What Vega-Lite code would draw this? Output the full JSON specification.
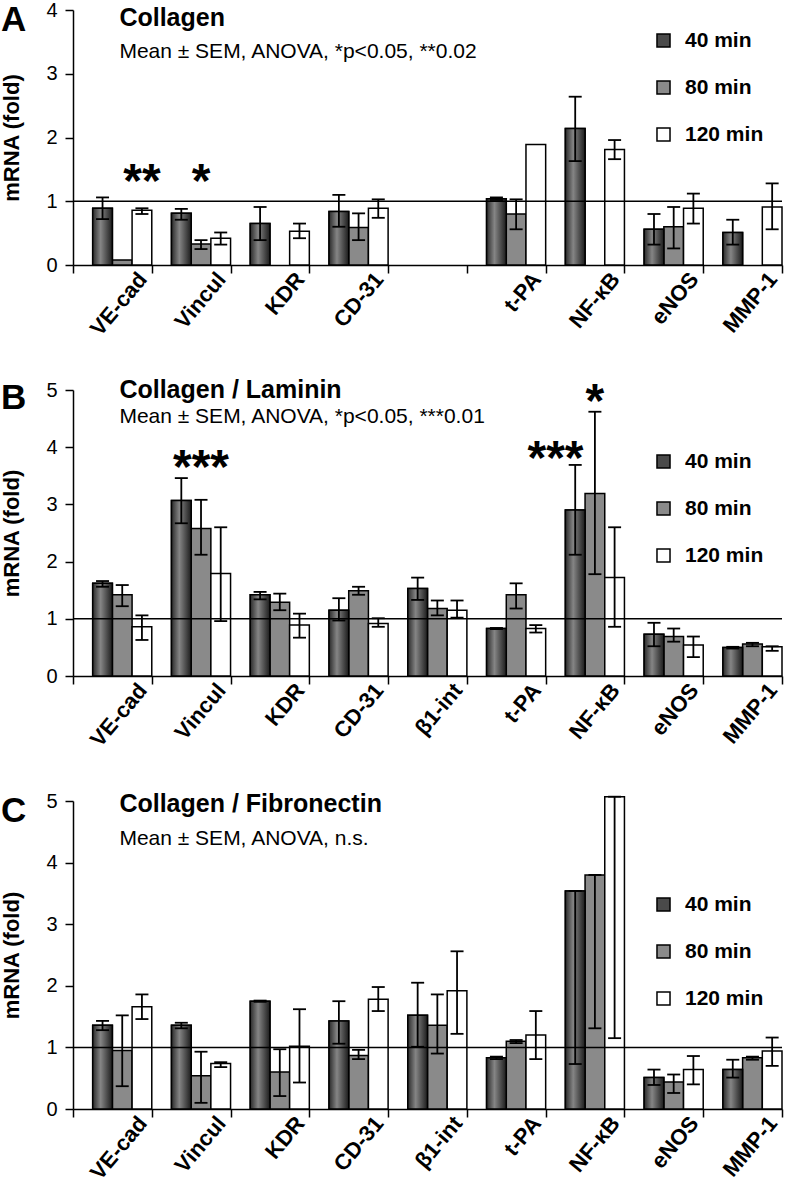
{
  "$schema": "https://vega.github.io/schema/vega-lite/v6.json",
  "background": "white",
  "padding": {"left": 0, "top": 0, "right": 2, "bottom": 2},
  "config": {
    "view": {"stroke": null},
    "font": "Liberation Sans",
    "axis": {"domainColor": "black", "domainWidth": 1.5, "tickColor": "black", "tickWidth": 1.5, "tickSize": 8, "grid": false, "labelColor": "black", "titleColor": "black", "labelFont": "Liberation Sans", "titleFont": "Liberation Sans"},
    "axisX": {"title": null, "labelFontSize": 22, "labelFontWeight": "bold", "labelPadding": 2, "tickBand": "extent"},
    "axisY": {"labelFontSize": 20, "labelPadding": 8, "titleFontSize": 22, "titleFontWeight": "bold", "titlePadding": 22, "format": "d"},
    "legend": {"title": null, "orient": "none", "legendX": 580, "symbolType": "square", "symbolSize": 170, "symbolStrokeColor": "black", "symbolStrokeWidth": 1.5, "labelFontSize": 21, "labelFontWeight": "bold", "labelFont": "Liberation Sans", "labelColor": "black", "rowPadding": 25, "labelOffset": 11, "symbolOpacity": 1},
    "title": {"anchor": "start", "frame": "bounds", "fontSize": 35, "fontWeight": "bold", "font": "Liberation Sans", "color": "black", "offset": 0, "dx": 0, "dy": 42}
  },
  "datasets": {
    "A": [
      {"gene": "VE-cad", "time": "40 min", "value": 0.89, "lo": 0.72, "hi": 1.06},
      {"gene": "VE-cad", "time": "80 min", "value": 0.08, "lo": null, "hi": null},
      {"gene": "VE-cad", "time": "120 min", "value": 0.86, "lo": 0.80, "hi": 0.89},
      {"gene": "Vincul", "time": "40 min", "value": 0.81, "lo": 0.71, "hi": 0.88},
      {"gene": "Vincul", "time": "80 min", "value": 0.33, "lo": 0.25, "hi": 0.39},
      {"gene": "Vincul", "time": "120 min", "value": 0.42, "lo": 0.32, "hi": 0.51},
      {"gene": "KDR", "time": "40 min", "value": 0.65, "lo": 0.39, "hi": 0.91},
      {"gene": "KDR", "time": "120 min", "value": 0.53, "lo": 0.42, "hi": 0.65},
      {"gene": "CD-31", "time": "40 min", "value": 0.84, "lo": 0.60, "hi": 1.10},
      {"gene": "CD-31", "time": "80 min", "value": 0.59, "lo": 0.39, "hi": 0.81},
      {"gene": "CD-31", "time": "120 min", "value": 0.89, "lo": 0.74, "hi": 1.03},
      {"gene": "t-PA", "time": "40 min", "value": 1.04, "lo": 1.02, "hi": 1.06},
      {"gene": "t-PA", "time": "80 min", "value": 0.80, "lo": 0.56, "hi": 1.03},
      {"gene": "t-PA", "time": "120 min", "value": 1.89, "lo": null, "hi": null},
      {"gene": "NF-κB", "time": "40 min", "value": 2.14, "lo": 1.63, "hi": 2.64},
      {"gene": "NF-κB", "time": "120 min", "value": 1.81, "lo": 1.66, "hi": 1.96},
      {"gene": "eNOS", "time": "40 min", "value": 0.56, "lo": 0.32, "hi": 0.80},
      {"gene": "eNOS", "time": "80 min", "value": 0.60, "lo": 0.26, "hi": 0.91},
      {"gene": "eNOS", "time": "120 min", "value": 0.89, "lo": 0.65, "hi": 1.12},
      {"gene": "MMP-1", "time": "40 min", "value": 0.51, "lo": 0.32, "hi": 0.71},
      {"gene": "MMP-1", "time": "120 min", "value": 0.91, "lo": 0.56, "hi": 1.28}
    ],
    "B": [
      {"gene": "VE-cad", "time": "40 min", "value": 1.62, "lo": 1.56, "hi": 1.66},
      {"gene": "VE-cad", "time": "80 min", "value": 1.42, "lo": 1.22, "hi": 1.59},
      {"gene": "VE-cad", "time": "120 min", "value": 0.86, "lo": 0.63, "hi": 1.06},
      {"gene": "Vincul", "time": "40 min", "value": 3.07, "lo": 2.67, "hi": 3.46},
      {"gene": "Vincul", "time": "80 min", "value": 2.58, "lo": 2.12, "hi": 3.08},
      {"gene": "Vincul", "time": "120 min", "value": 1.79, "lo": 0.96, "hi": 2.60},
      {"gene": "KDR", "time": "40 min", "value": 1.42, "lo": 1.34, "hi": 1.47},
      {"gene": "KDR", "time": "80 min", "value": 1.29, "lo": 1.15, "hi": 1.44},
      {"gene": "KDR", "time": "120 min", "value": 0.89, "lo": 0.67, "hi": 1.09},
      {"gene": "CD-31", "time": "40 min", "value": 1.15, "lo": 0.97, "hi": 1.36},
      {"gene": "CD-31", "time": "80 min", "value": 1.49, "lo": 1.42, "hi": 1.56},
      {"gene": "CD-31", "time": "120 min", "value": 0.92, "lo": 0.86, "hi": 1.01},
      {"gene": "β1-int", "time": "40 min", "value": 1.53, "lo": 1.33, "hi": 1.72},
      {"gene": "β1-int", "time": "80 min", "value": 1.18, "lo": 1.06, "hi": 1.32},
      {"gene": "β1-int", "time": "120 min", "value": 1.15, "lo": 1.02, "hi": 1.32},
      {"gene": "t-PA", "time": "40 min", "value": 0.83, "lo": 0.82, "hi": 0.84},
      {"gene": "t-PA", "time": "80 min", "value": 1.42, "lo": 1.18, "hi": 1.62},
      {"gene": "t-PA", "time": "120 min", "value": 0.83, "lo": 0.76, "hi": 0.89},
      {"gene": "NF-κB", "time": "40 min", "value": 2.90, "lo": 2.12, "hi": 3.69},
      {"gene": "NF-κB", "time": "80 min", "value": 3.19, "lo": 1.78, "hi": 4.62},
      {"gene": "NF-κB", "time": "120 min", "value": 1.72, "lo": 0.86, "hi": 2.60},
      {"gene": "eNOS", "time": "40 min", "value": 0.73, "lo": 0.52, "hi": 0.93},
      {"gene": "eNOS", "time": "80 min", "value": 0.69, "lo": 0.60, "hi": 0.83},
      {"gene": "eNOS", "time": "120 min", "value": 0.54, "lo": 0.33, "hi": 0.69},
      {"gene": "MMP-1", "time": "40 min", "value": 0.50, "lo": 0.48, "hi": 0.51},
      {"gene": "MMP-1", "time": "80 min", "value": 0.56, "lo": 0.52, "hi": 0.58},
      {"gene": "MMP-1", "time": "120 min", "value": 0.51, "lo": 0.44, "hi": 0.52}
    ],
    "C": [
      {"gene": "VE-cad", "time": "40 min", "value": 1.36, "lo": 1.28, "hi": 1.43},
      {"gene": "VE-cad", "time": "80 min", "value": 0.95, "lo": 0.37, "hi": 1.52},
      {"gene": "VE-cad", "time": "120 min", "value": 1.66, "lo": 1.46, "hi": 1.86},
      {"gene": "Vincul", "time": "40 min", "value": 1.36, "lo": 1.31, "hi": 1.40},
      {"gene": "Vincul", "time": "80 min", "value": 0.54, "lo": 0.10, "hi": 0.93},
      {"gene": "Vincul", "time": "120 min", "value": 0.74, "lo": 0.68, "hi": 0.76},
      {"gene": "KDR", "time": "40 min", "value": 1.75, "lo": 1.74, "hi": 1.76},
      {"gene": "KDR", "time": "80 min", "value": 0.60, "lo": 0.21, "hi": 0.97},
      {"gene": "KDR", "time": "120 min", "value": 1.02, "lo": 0.43, "hi": 1.62},
      {"gene": "CD-31", "time": "40 min", "value": 1.43, "lo": 1.06, "hi": 1.75},
      {"gene": "CD-31", "time": "80 min", "value": 0.87, "lo": 0.81, "hi": 0.96},
      {"gene": "CD-31", "time": "120 min", "value": 1.78, "lo": 1.59, "hi": 1.98},
      {"gene": "β1-int", "time": "40 min", "value": 1.52, "lo": 1.01, "hi": 2.05},
      {"gene": "β1-int", "time": "80 min", "value": 1.36, "lo": 0.90, "hi": 1.86},
      {"gene": "β1-int", "time": "120 min", "value": 1.92, "lo": 1.22, "hi": 2.56},
      {"gene": "t-PA", "time": "40 min", "value": 0.83, "lo": 0.81, "hi": 0.85},
      {"gene": "t-PA", "time": "80 min", "value": 1.10, "lo": 1.07, "hi": 1.12},
      {"gene": "t-PA", "time": "120 min", "value": 1.20, "lo": 0.81, "hi": 1.59},
      {"gene": "NF-κB", "time": "40 min", "value": 3.54, "lo": 0.73, "hi": 3.54},
      {"gene": "NF-κB", "time": "80 min", "value": 3.80, "lo": 1.31, "hi": 3.80},
      {"gene": "NF-κB", "time": "120 min", "value": 5.07, "lo": 1.15, "hi": 5.07},
      {"gene": "eNOS", "time": "40 min", "value": 0.51, "lo": 0.39, "hi": 0.64},
      {"gene": "eNOS", "time": "80 min", "value": 0.44, "lo": 0.26, "hi": 0.56},
      {"gene": "eNOS", "time": "120 min", "value": 0.64, "lo": 0.40, "hi": 0.86},
      {"gene": "MMP-1", "time": "40 min", "value": 0.64, "lo": 0.51, "hi": 0.80},
      {"gene": "MMP-1", "time": "80 min", "value": 0.83, "lo": 0.80, "hi": 0.85},
      {"gene": "MMP-1", "time": "120 min", "value": 0.94, "lo": 0.70, "hi": 1.16}
    ],
    "notes": [
      {"panel": "A", "kind": "title", "gene": "VE-cad", "time": "pad", "yv": 3.75, "text": "Collagen"},
      {"panel": "A", "kind": "sub", "gene": "VE-cad", "time": "pad", "yv": 3.25, "text": "Mean ± SEM, ANOVA, *p<0.05, **0.02"},
      {"panel": "A", "kind": "star", "gene": "VE-cad", "time": "120 min", "yv": 1.06, "text": "**"},
      {"panel": "A", "kind": "star", "gene": "Vincul", "time": "80 min", "yv": 1.06, "text": "*"},
      {"panel": "B", "kind": "title", "gene": "VE-cad", "time": "pad", "yv": 4.86, "text": "Collagen / Laminin"},
      {"panel": "B", "kind": "sub", "gene": "VE-cad", "time": "pad", "yv": 4.42, "text": "Mean ± SEM, ANOVA, *p<0.05, ***0.01"},
      {"panel": "B", "kind": "star", "gene": "Vincul", "time": "80 min", "yv": 3.37, "text": "***"},
      {"panel": "B", "kind": "star", "gene": "NF-κB", "time": "pad", "yv": 3.54, "text": "***"},
      {"panel": "B", "kind": "star", "gene": "NF-κB", "time": "80 min", "yv": 4.53, "text": "*"},
      {"panel": "C", "kind": "title", "gene": "VE-cad", "time": "pad", "yv": 4.82, "text": "Collagen / Fibronectin"},
      {"panel": "C", "kind": "sub", "gene": "VE-cad", "time": "pad", "yv": 4.29, "text": "Mean ± SEM, ANOVA, n.s."}
    ],
    "ref": [{"ref": 1}]
  },
  "spacing": 125,
  "bounds": "flush",
  "resolve": {"scale": {"x": "independent", "y": "independent", "xOffset": "independent", "fill": "independent"}, "legend": {"fill": "independent"}},
  "vconcat": [
    {
      "width": 709, "height": 255,
      "title": {"text": "A"},
      "layer": [
        {"data": {"name": "A"}, "mark": {"type": "bar", "stroke": "black", "strokeWidth": 1.5},
         "encoding": {
           "x": {"field": "gene", "type": "nominal", "scale": {"domain": ["VE-cad","Vincul","KDR","CD-31","β1-int","t-PA","NF-κB","eNOS","MMP-1"], "paddingInner": 0, "paddingOuter": 0}, "axis": {"labelAngle": -50, "labelOffset": 30, "labelExpr": "datum.value == 'β1-int' ? '' : datum.value"}},
           "xOffset": {"field": "time", "type": "nominal", "scale": {"domain": ["pad","40 min","80 min","120 min"], "paddingInner": 0, "paddingOuter": 0}},
           "y": {"field": "value", "type": "quantitative", "scale": {"domain": [0, 4], "nice": false}, "axis": {"title": "mRNA (fold)", "values": [0,1,2,3,4]}},
           "fill": {"field": "time", "type": "nominal", "scale": {"domain": ["40 min","80 min","120 min"], "range": ["#4a4a4a", "#8a8a8a", "#ffffff"]}, "legend": {"legendY": 20}}
         }},
        {"data": {"name": "A"}, "transform": [{"filter": "datum.time == '40 min'"}], "mark": {"type": "bar", "stroke": "black", "strokeWidth": 1.5, "fill": {"gradient": "linear", "x1": 0, "y1": 0, "x2": 1, "y2": 0, "stops": [{"offset": 0, "color": "#2a2a2a"}, {"offset": 0.4, "color": "#858585"}, {"offset": 1, "color": "#1c1c1c"}]}},
         "encoding": {"x": {"field": "gene", "type": "nominal"}, "xOffset": {"field": "time", "type": "nominal"}, "y": {"field": "value", "type": "quantitative", "title": "mRNA (fold)"}}},
        {"data": {"name": "ref"}, "mark": {"type": "rule", "color": "black", "strokeWidth": 1.5},
         "encoding": {"y": {"field": "ref", "type": "quantitative", "title": "mRNA (fold)"}}},
        {"data": {"name": "A"}, "transform": [{"filter": "datum.lo != null"}], "mark": {"type": "rule", "color": "black", "strokeWidth": 1.8},
         "encoding": {"x": {"field": "gene", "type": "nominal"}, "xOffset": {"field": "time", "type": "nominal"}, "y": {"field": "lo", "type": "quantitative", "title": "mRNA (fold)"}, "y2": {"field": "hi"}}},
        {"data": {"name": "A"}, "transform": [{"filter": "datum.lo != null"}, {"fold": ["lo", "hi"], "as": ["end", "ev"]}], "mark": {"type": "tick", "color": "black", "size": 13, "thickness": 1.8, "opacity": 1},
         "encoding": {"x": {"field": "gene", "type": "nominal"}, "xOffset": {"field": "time", "type": "nominal"}, "y": {"field": "ev", "type": "quantitative", "title": "mRNA (fold)"}}},
        {"data": {"name": "notes"}, "transform": [{"filter": "datum.panel == 'A' && datum.kind == 'star'"}], "mark": {"type": "text", "fontSize": 48, "fontWeight": "bold", "align": "center", "baseline": "alphabetic", "color": "black"},
         "encoding": {"x": {"field": "gene", "type": "nominal"}, "xOffset": {"field": "time", "type": "nominal"}, "y": {"field": "yv", "type": "quantitative", "title": "mRNA (fold)"}, "text": {"field": "text"}}},
        {"data": {"name": "notes"}, "transform": [{"filter": "datum.panel == 'A' && datum.kind == 'title'"}], "mark": {"type": "text", "fontSize": 25, "fontWeight": "bold", "align": "left", "baseline": "alphabetic", "dx": 7, "color": "black"},
         "encoding": {"x": {"field": "gene", "type": "nominal"}, "y": {"field": "yv", "type": "quantitative", "title": "mRNA (fold)"}, "text": {"field": "text"}}},
        {"data": {"name": "notes"}, "transform": [{"filter": "datum.panel == 'A' && datum.kind == 'sub'"}], "mark": {"type": "text", "fontSize": 21, "align": "left", "baseline": "alphabetic", "dx": 7, "color": "black"},
         "encoding": {"x": {"field": "gene", "type": "nominal"}, "y": {"field": "yv", "type": "quantitative", "title": "mRNA (fold)"}, "text": {"field": "text"}}}
      ]
    },
    {
      "width": 709, "height": 286,
      "title": {"text": "B"},
      "layer": [
        {"data": {"name": "B"}, "mark": {"type": "bar", "stroke": "black", "strokeWidth": 1.5},
         "encoding": {
           "x": {"field": "gene", "type": "nominal", "scale": {"domain": ["VE-cad","Vincul","KDR","CD-31","β1-int","t-PA","NF-κB","eNOS","MMP-1"], "paddingInner": 0, "paddingOuter": 0}, "axis": {"labelAngle": -50, "labelOffset": 30}},
           "xOffset": {"field": "time", "type": "nominal", "scale": {"domain": ["pad","40 min","80 min","120 min"], "paddingInner": 0, "paddingOuter": 0}},
           "y": {"field": "value", "type": "quantitative", "scale": {"domain": [0, 5], "nice": false}, "axis": {"title": "mRNA (fold)", "values": [0,1,2,3,4,5]}},
           "fill": {"field": "time", "type": "nominal", "scale": {"domain": ["40 min","80 min","120 min"], "range": ["#4a4a4a", "#8a8a8a", "#ffffff"]}, "legend": {"legendY": 61}}
         }},
        {"data": {"name": "B"}, "transform": [{"filter": "datum.time == '40 min'"}], "mark": {"type": "bar", "stroke": "black", "strokeWidth": 1.5, "fill": {"gradient": "linear", "x1": 0, "y1": 0, "x2": 1, "y2": 0, "stops": [{"offset": 0, "color": "#2a2a2a"}, {"offset": 0.4, "color": "#858585"}, {"offset": 1, "color": "#1c1c1c"}]}},
         "encoding": {"x": {"field": "gene", "type": "nominal"}, "xOffset": {"field": "time", "type": "nominal"}, "y": {"field": "value", "type": "quantitative", "title": "mRNA (fold)"}}},
        {"data": {"name": "ref"}, "mark": {"type": "rule", "color": "black", "strokeWidth": 1.5},
         "encoding": {"y": {"field": "ref", "type": "quantitative", "title": "mRNA (fold)"}}},
        {"data": {"name": "B"}, "transform": [{"filter": "datum.lo != null"}], "mark": {"type": "rule", "color": "black", "strokeWidth": 1.8},
         "encoding": {"x": {"field": "gene", "type": "nominal"}, "xOffset": {"field": "time", "type": "nominal"}, "y": {"field": "lo", "type": "quantitative", "title": "mRNA (fold)"}, "y2": {"field": "hi"}}},
        {"data": {"name": "B"}, "transform": [{"filter": "datum.lo != null"}, {"fold": ["lo", "hi"], "as": ["end", "ev"]}], "mark": {"type": "tick", "color": "black", "size": 13, "thickness": 1.8, "opacity": 1},
         "encoding": {"x": {"field": "gene", "type": "nominal"}, "xOffset": {"field": "time", "type": "nominal"}, "y": {"field": "ev", "type": "quantitative", "title": "mRNA (fold)"}}},
        {"data": {"name": "notes"}, "transform": [{"filter": "datum.panel == 'B' && datum.kind == 'star'"}], "mark": {"type": "text", "fontSize": 48, "fontWeight": "bold", "align": "center", "baseline": "alphabetic", "color": "black"},
         "encoding": {"x": {"field": "gene", "type": "nominal"}, "xOffset": {"field": "time", "type": "nominal"}, "y": {"field": "yv", "type": "quantitative", "title": "mRNA (fold)"}, "text": {"field": "text"}}},
        {"data": {"name": "notes"}, "transform": [{"filter": "datum.panel == 'B' && datum.kind == 'title'"}], "mark": {"type": "text", "fontSize": 25, "fontWeight": "bold", "align": "left", "baseline": "alphabetic", "dx": 7, "color": "black"},
         "encoding": {"x": {"field": "gene", "type": "nominal"}, "y": {"field": "yv", "type": "quantitative", "title": "mRNA (fold)"}, "text": {"field": "text"}}},
        {"data": {"name": "notes"}, "transform": [{"filter": "datum.panel == 'B' && datum.kind == 'sub'"}], "mark": {"type": "text", "fontSize": 21, "align": "left", "baseline": "alphabetic", "dx": 7, "color": "black"},
         "encoding": {"x": {"field": "gene", "type": "nominal"}, "y": {"field": "yv", "type": "quantitative", "title": "mRNA (fold)"}, "text": {"field": "text"}}}
      ]
    },
    {
      "width": 709, "height": 308,
      "title": {"text": "C"},
      "layer": [
        {"data": {"name": "C"}, "mark": {"type": "bar", "stroke": "black", "strokeWidth": 1.5},
         "encoding": {
           "x": {"field": "gene", "type": "nominal", "scale": {"domain": ["VE-cad","Vincul","KDR","CD-31","β1-int","t-PA","NF-κB","eNOS","MMP-1"], "paddingInner": 0, "paddingOuter": 0}, "axis": {"labelAngle": -50, "labelOffset": 30}},
           "xOffset": {"field": "time", "type": "nominal", "scale": {"domain": ["pad","40 min","80 min","120 min"], "paddingInner": 0, "paddingOuter": 0}},
           "y": {"field": "value", "type": "quantitative", "scale": {"domain": [0, 5], "nice": false}, "axis": {"title": "mRNA (fold)", "values": [0,1,2,3,4,5]}},
           "fill": {"field": "time", "type": "nominal", "scale": {"domain": ["40 min","80 min","120 min"], "range": ["#4a4a4a", "#8a8a8a", "#ffffff"]}, "legend": {"legendY": 93}}
         }},
        {"data": {"name": "C"}, "transform": [{"filter": "datum.time == '40 min'"}], "mark": {"type": "bar", "stroke": "black", "strokeWidth": 1.5, "fill": {"gradient": "linear", "x1": 0, "y1": 0, "x2": 1, "y2": 0, "stops": [{"offset": 0, "color": "#2a2a2a"}, {"offset": 0.4, "color": "#858585"}, {"offset": 1, "color": "#1c1c1c"}]}},
         "encoding": {"x": {"field": "gene", "type": "nominal"}, "xOffset": {"field": "time", "type": "nominal"}, "y": {"field": "value", "type": "quantitative", "title": "mRNA (fold)"}}},
        {"data": {"name": "ref"}, "mark": {"type": "rule", "color": "black", "strokeWidth": 1.5},
         "encoding": {"y": {"field": "ref", "type": "quantitative", "title": "mRNA (fold)"}}},
        {"data": {"name": "C"}, "transform": [{"filter": "datum.lo != null"}], "mark": {"type": "rule", "color": "black", "strokeWidth": 1.8},
         "encoding": {"x": {"field": "gene", "type": "nominal"}, "xOffset": {"field": "time", "type": "nominal"}, "y": {"field": "lo", "type": "quantitative", "title": "mRNA (fold)"}, "y2": {"field": "hi"}}},
        {"data": {"name": "C"}, "transform": [{"filter": "datum.lo != null"}, {"fold": ["lo", "hi"], "as": ["end", "ev"]}], "mark": {"type": "tick", "color": "black", "size": 13, "thickness": 1.8, "opacity": 1},
         "encoding": {"x": {"field": "gene", "type": "nominal"}, "xOffset": {"field": "time", "type": "nominal"}, "y": {"field": "ev", "type": "quantitative", "title": "mRNA (fold)"}}},
        {"data": {"name": "notes"}, "transform": [{"filter": "datum.panel == 'C' && datum.kind == 'title'"}], "mark": {"type": "text", "fontSize": 25, "fontWeight": "bold", "align": "left", "baseline": "alphabetic", "dx": 7, "color": "black"},
         "encoding": {"x": {"field": "gene", "type": "nominal"}, "y": {"field": "yv", "type": "quantitative", "title": "mRNA (fold)"}, "text": {"field": "text"}}},
        {"data": {"name": "notes"}, "transform": [{"filter": "datum.panel == 'C' && datum.kind == 'sub'"}], "mark": {"type": "text", "fontSize": 21, "align": "left", "baseline": "alphabetic", "dx": 7, "color": "black"},
         "encoding": {"x": {"field": "gene", "type": "nominal"}, "y": {"field": "yv", "type": "quantitative", "title": "mRNA (fold)"}, "text": {"field": "text"}}}
      ]
    }
  ]
}
